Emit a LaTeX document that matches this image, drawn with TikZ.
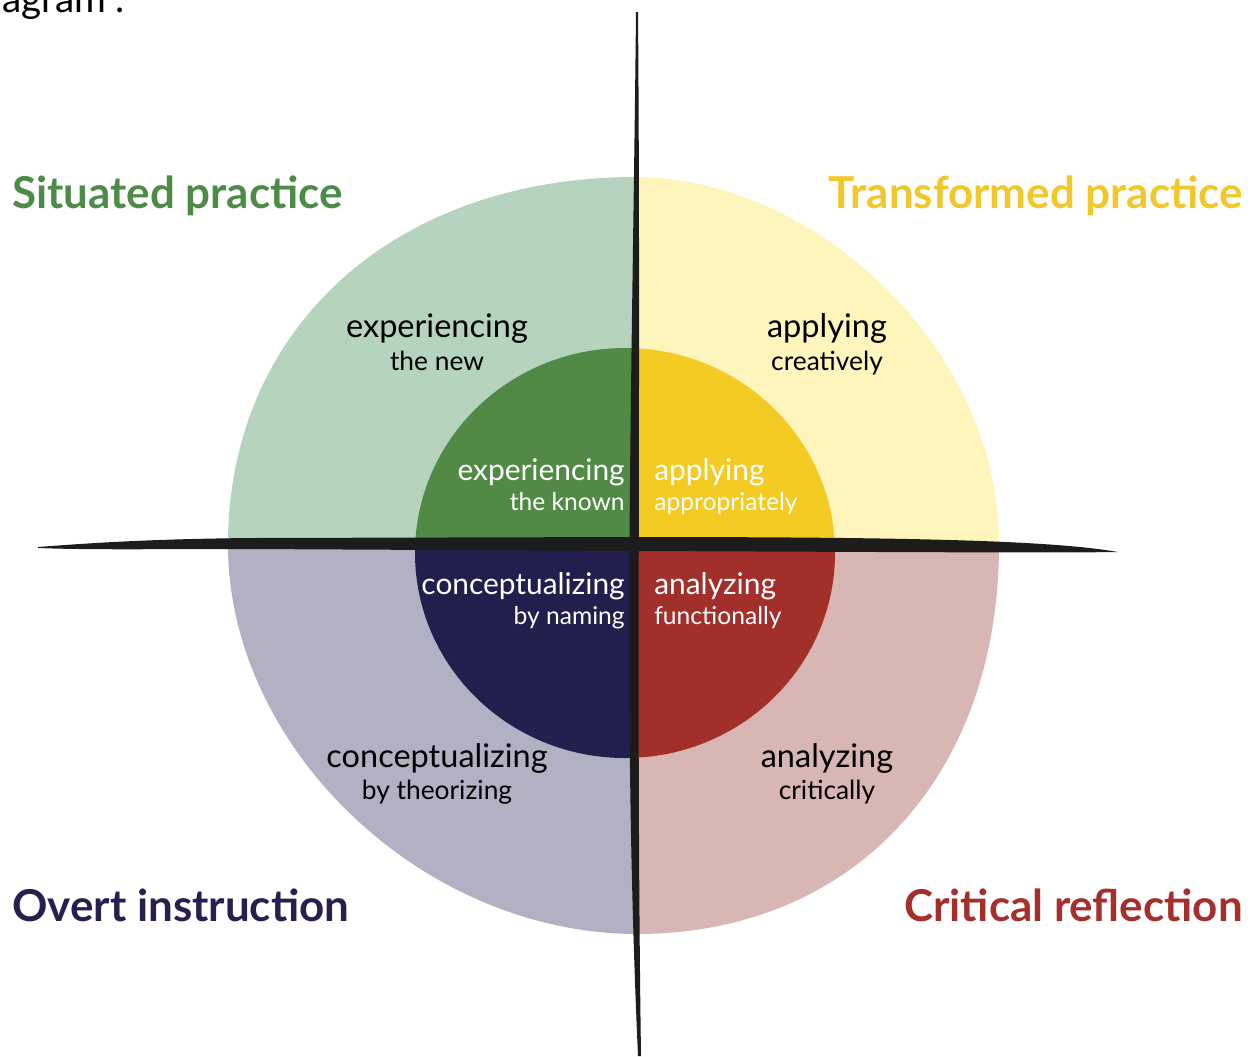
\documentclass[tikz,border=0pt]{standalone}
\usepackage{fontspec}
\setmainfont{Lato}

\definecolor{situatedDark}{HTML}{518A45}
\definecolor{situatedLight}{HTML}{B5D3BD}
\definecolor{situatedTitle}{HTML}{4E8B48}
\definecolor{transformedDark}{HTML}{F3CB22}
\definecolor{transformedLight}{HTML}{FEF5BD}
\definecolor{transformedTitle}{HTML}{F2C72A}
\definecolor{overtDark}{HTML}{221F4F}
\definecolor{overtLight}{HTML}{B2B1C3}
\definecolor{overtTitle}{HTML}{25214F}
\definecolor{criticalDark}{HTML}{A22F2A}
\definecolor{criticalLight}{HTML}{D8B6B3}
\definecolor{criticalTitle}{HTML}{A5302B}
\definecolor{brush}{HTML}{1C1C1C}

\begin{document}
\begin{tikzpicture}
	[
		x = 0.02cm, y = -0.02cm,
		heading/.style = {font=\fontsize{25}{30}\selectfont\bfseries, inner sep=0pt},
		ringbig/.style = {font=\fontsize{18.5}{22}\selectfont, anchor=base, inner sep=0pt},
		ringsmall/.style = {font=\fontsize{15}{18}\selectfont, anchor=base, inner sep=0pt},
		corebig/.style = {font=\fontsize{17}{20}\selectfont, text=white, inner sep=0pt},
		coresmall/.style = {font=\fontsize{14}{17}\selectfont, text=white, inner sep=0pt},
		stroke/.style = {fill=brush}]

	\useasboundingbox (0,0) rectangle (1256,1056);

	% quarters: outer ring and core
	\foreach \cx/\cy/\outer/\inner in {0/0/situatedLight/situatedDark, 634/0/transformedLight/transformedDark, 0/545/overtLight/overtDark, 634/545/criticalLight/criticalDark}
	{
		\begin{scope}
			\clip (\cx,\cy) rectangle ++(634,545);
			\fill[\outer] (636,177) .. controls (810,177) and (999,343) .. (999,545)
				.. controls (999,775) and (855,934) .. (636,934)
				.. controls (420,933) and (228,746) .. (228,545)
				.. controls (228,328) and (394,177) .. (636,177) -- cycle;
			\fill[\inner] (625,553) ellipse [x radius=210, y radius=205];
		\end{scope}
	}

	% brush strokes
	\fill[stroke] (38,547) .. controls (90,543) and (150,539) .. (250,538) -- (634,537)
		.. controls (900,537) and (1050,540) .. (1118,552)
		.. controls (1050,553) and (900,552) .. (634,551) -- (250,549)
		.. controls (150,549) and (90,550) .. (38,548) -- cycle;
	\fill[stroke] (636,12) .. controls (632,400) and (622,700) .. (638,1056) -- (641,1056)
		.. controls (636,700) and (641,400) .. (638,12) -- cycle;

	\node[anchor=base west, font=\fontsize{22}{26}\selectfont, inner sep=0pt] (caption) at (2,12) {agram”.};

	\node[heading, text=situatedTitle, anchor=base west] (situated) at (12,208) {Situated practice};
	\node[heading, text=transformedTitle, anchor=base east] (transformed) at (1243,208) {Transformed practice};
	\node[heading, text=overtTitle, anchor=base west] (overt) at (12,921) {Overt instruction};
	\node[heading, text=criticalTitle, anchor=base east] (critical) at (1243,921) {Critical reflection};

	\node[ringbig] (newTop) at (437,337) {experiencing};
	\node[ringsmall] (newBottom) at (437,370) {the new};
	\node[ringbig] (creativeTop) at (827,337) {applying};
	\node[ringsmall] (creativeBottom) at (827,370) {creatively};
	\node[ringbig] (theoryTop) at (437,767) {conceptualizing};
	\node[ringsmall] (theoryBottom) at (437,799) {by theorizing};
	\node[ringbig] (analyzeTop) at (827,767) {analyzing};
	\node[ringsmall] (analyzeBottom) at (827,799) {critically};

	\node[corebig, anchor=base east] (knownTop) at (625,480) {experiencing};
	\node[coresmall, anchor=base east] (knownBottom) at (625,510) {the known};
	\node[corebig, anchor=base west] (appropriateTop) at (654,480) {applying};
	\node[coresmall, anchor=base west] (appropriateBottom) at (654,510) {appropriately};
	\node[corebig, anchor=base east] (namingTop) at (625,594) {conceptualizing};
	\node[coresmall, anchor=base east] (namingBottom) at (625,624) {by naming};
	\node[corebig, anchor=base west] (functionTop) at (654,594) {analyzing};
	\node[coresmall, anchor=base west] (functionBottom) at (654,624) {functionally};
\end{tikzpicture}
\end{document}
